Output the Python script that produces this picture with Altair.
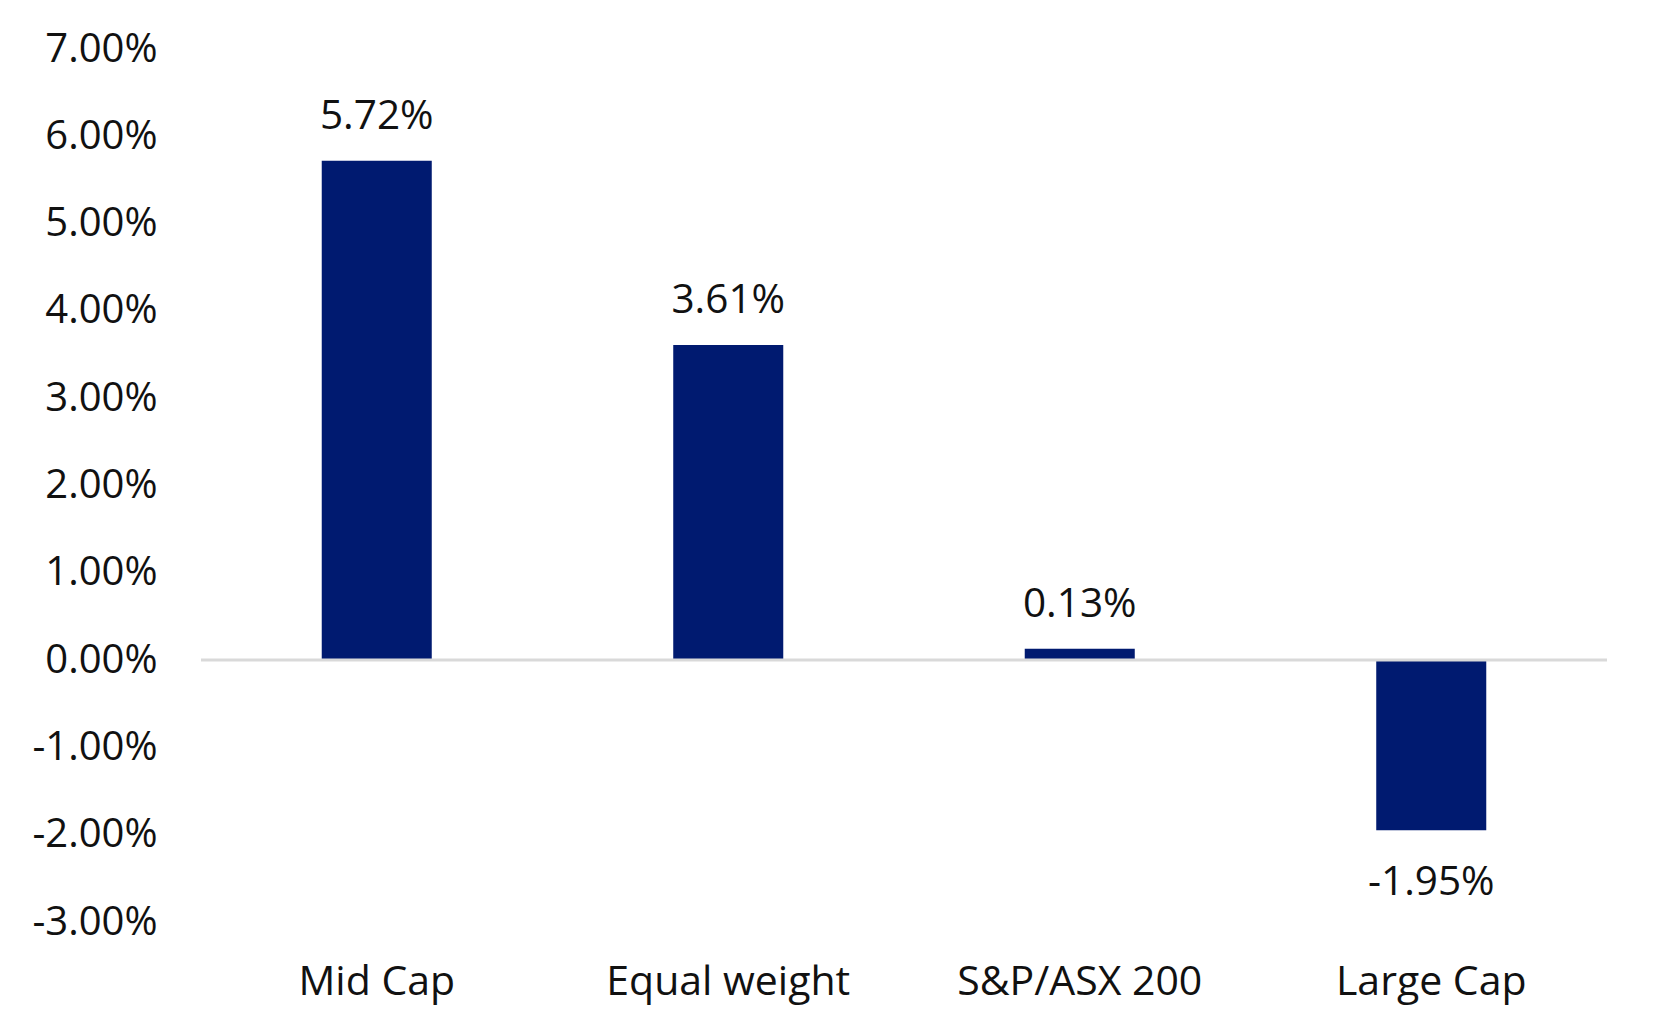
import altair as alt
import pandas as pd

categories = ["Mid Cap", "Equal weight", "S&P/ASX 200", "Large Cap"]
values = [5.72, 3.61, 0.13, -1.95]
y_ticks = [-3, -2, -1, 0, 1, 2, 3, 4, 5, 6, 7]

df = pd.DataFrame({"category": categories, "value": values})

FONT = "Open Sans"
NAVY = "#001A70"
TXT = "#111111"

x_enc = alt.X(
    "category:N",
    sort=categories,
    scale=alt.Scale(paddingInner=0.687, paddingOuter=0.3435),
    axis=alt.Axis(
        title=None,
        domain=False,
        ticks=False,
        labelAngle=0,
        labelFont=FONT,
        labelFontSize=41,
        labelColor=TXT,
        labelBaseline="alphabetic",
        labelPadding=72,
        labelLimit=0,
    ),
)
y_scale = alt.Scale(domain=[-3, 7], nice=False, zero=False)

base = alt.Chart(df)

label_expr = "replace(format(datum.value, '.2f'), '\u2212', '-') + '%'"

bars = base.mark_bar(color=NAVY).encode(
    x=x_enc,
    y=alt.Y(
        "value:Q",
        scale=y_scale,
        axis=alt.Axis(
            title=None,
            values=y_ticks,
            domain=False,
            ticks=False,
            tickSize=0,
            grid=False,
            labelFont=FONT,
            labelFontSize=40,
            labelColor=TXT,
            labelPadding=44,
            labelLimit=0,
            labelExpr=label_expr,
        ),
    ),
    y2=alt.datum(0),
)

pos_text = base.transform_filter("datum.value >= 0").transform_calculate(
    lbl=label_expr
).mark_text(
    font=FONT, fontSize=40.5, color=TXT, baseline="alphabetic", align="center", dy=-32
).encode(
    x=alt.X("category:N", sort=categories),
    y=alt.Y("value:Q", scale=y_scale),
    text="lbl:N",
)

neg_text = base.transform_filter("datum.value < 0").transform_calculate(
    lbl=label_expr
).mark_text(
    font=FONT, fontSize=40.5, color=TXT, baseline="alphabetic", align="center", dy=65
).encode(
    x=alt.X("category:N", sort=categories),
    y=alt.Y("value:Q", scale=y_scale),
    text="lbl:N",
)

zero_rule = alt.Chart(pd.DataFrame({"z": [0]})).mark_rule(
    color="#d9d9d9", strokeWidth=3
).encode(y=alt.Y("z:Q", scale=y_scale))

chart = (
    alt.layer(bars, zero_rule, pos_text, neg_text)
    .properties(
        width=1406,
        height=873,
        autosize=alt.AutoSizeParams(type="none"),
        padding={"left": 193, "top": 41, "right": 40, "bottom": 100},
        background="white",
    )
    .configure_view(stroke=None)
)

chart.save("out.html", embed_options={"renderer": "svg", "actions": False})
